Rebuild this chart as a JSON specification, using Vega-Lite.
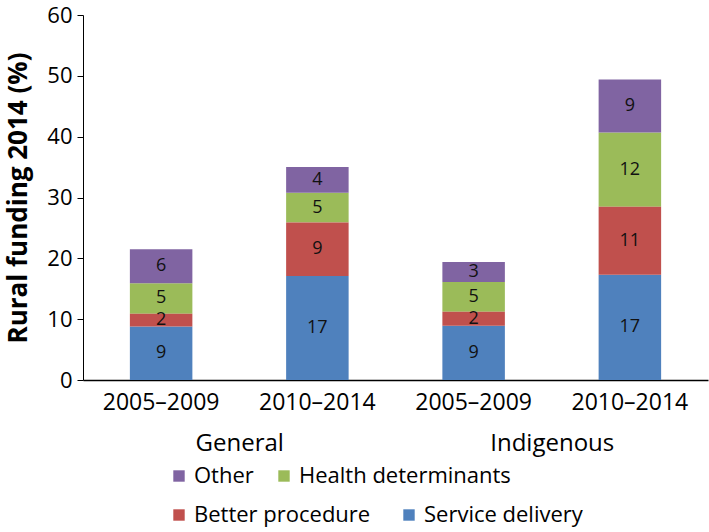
{
  "$schema": "https://vega.github.io/schema/vega-lite/v6.json",
  "background": "white",
  "padding": {"left": 5, "top": 4, "right": 2, "bottom": 2},
  "width": 625,
  "height": 365,
  "data": {
    "values": [
      {"bar": "General|2005–2009", "group": "General", "period": "2005–2009", "category": "Service delivery", "rank": 1, "value": 8.8},
      {"bar": "General|2005–2009", "group": "General", "period": "2005–2009", "category": "Better procedure", "rank": 2, "value": 2.1},
      {"bar": "General|2005–2009", "group": "General", "period": "2005–2009", "category": "Health determinants", "rank": 3, "value": 5.0},
      {"bar": "General|2005–2009", "group": "General", "period": "2005–2009", "category": "Other", "rank": 4, "value": 5.6},
      {"bar": "General|2010–2014", "group": "General", "period": "2010–2014", "category": "Service delivery", "rank": 1, "value": 17.1},
      {"bar": "General|2010–2014", "group": "General", "period": "2010–2014", "category": "Better procedure", "rank": 2, "value": 8.8},
      {"bar": "General|2010–2014", "group": "General", "period": "2010–2014", "category": "Health determinants", "rank": 3, "value": 4.9},
      {"bar": "General|2010–2014", "group": "General", "period": "2010–2014", "category": "Other", "rank": 4, "value": 4.2},
      {"bar": "Indigenous|2005–2009", "group": "Indigenous", "period": "2005–2009", "category": "Service delivery", "rank": 1, "value": 8.9},
      {"bar": "Indigenous|2005–2009", "group": "Indigenous", "period": "2005–2009", "category": "Better procedure", "rank": 2, "value": 2.3},
      {"bar": "Indigenous|2005–2009", "group": "Indigenous", "period": "2005–2009", "category": "Health determinants", "rank": 3, "value": 4.9},
      {"bar": "Indigenous|2005–2009", "group": "Indigenous", "period": "2005–2009", "category": "Other", "rank": 4, "value": 3.3},
      {"bar": "Indigenous|2010–2014", "group": "Indigenous", "period": "2010–2014", "category": "Service delivery", "rank": 1, "value": 17.3},
      {"bar": "Indigenous|2010–2014", "group": "Indigenous", "period": "2010–2014", "category": "Better procedure", "rank": 2, "value": 11.2},
      {"bar": "Indigenous|2010–2014", "group": "Indigenous", "period": "2010–2014", "category": "Health determinants", "rank": 3, "value": 12.2},
      {"bar": "Indigenous|2010–2014", "group": "Indigenous", "period": "2010–2014", "category": "Other", "rank": 4, "value": 8.7}
    ]
  },
  "layer": [
    {
      "encoding": {
        "x": {
          "field": "bar",
          "type": "nominal",
          "title": null,
          "sort": null,
          "scale": {"paddingInner": 0.6, "paddingOuter": 0.3},
          "axis": {
            "orient": "bottom",
            "labelAngle": 0,
            "labelExpr": "split(datum.label, '|')[1]",
            "ticks": false,
            "domainColor": "#000000",
            "domainWidth": 1.5,
            "labelFont": "Open Sans",
            "labelFontSize": 23,
            "labelColor": "#000000",
            "labelPadding": 11
          }
        }
      },
      "layer": [
        {
          "transform": [
            {"stack": "value", "groupby": ["bar"], "sort": [{"field": "rank", "order": "ascending"}], "as": ["y0", "y1"]},
            {"filter": "datum.rank >= 3"}
          ],
          "mark": {"type": "bar"},
          "encoding": {
            "y": {
              "field": "y0",
              "type": "quantitative",
              "title": "Rural funding 2014 (%)",
              "scale": {"domain": [0, 60], "nice": false},
              "axis": {
                "values": [0, 10, 20, 30, 40, 50, 60],
                "grid": false,
                "domainColor": "#000000",
                "tickColor": "#000000",
                "tickSize": 6,
                "labelFont": "Open Sans",
                "labelFontSize": 22,
                "labelColor": "#000000",
                "labelPadding": 5,
                "titleFont": "Open Sans",
                "titleFontSize": 26,
                "titleFontWeight": "bold",
                "titleColor": "#000000",
                "titlePadding": 15
              }
            },
            "y2": {"field": "y1"},
            "color": {
              "field": "category",
              "type": "nominal",
              "scale": {
                "domain": ["Other", "Health determinants"],
                "range": ["#8064A2", "#9BBB59"]
              },
              "legend": {
                "title": null,
                "orient": "none",
                "legendX": 85,
                "legendY": 450,
                "direction": "horizontal",
                "symbolType": "square",
                "symbolSize": 130,
                "symbolStrokeWidth": 0,
                "labelFont": "Open Sans",
                "labelFontSize": 22,
                "labelColor": "#000000",
                "labelLimit": 0,
                "labelOffset": 4,
                "columnPadding": 19
              }
            }
          }
        },
        {
          "transform": [
            {"stack": "value", "groupby": ["bar"], "sort": [{"field": "rank", "order": "ascending"}], "as": ["y0", "y1"]},
            {"filter": "datum.rank <= 2"}
          ],
          "mark": {"type": "bar"},
          "encoding": {
            "y": {"field": "y0", "type": "quantitative", "title": "Rural funding 2014 (%)"},
            "y2": {"field": "y1"},
            "color": {
              "field": "category",
              "type": "nominal",
              "scale": {
                "domain": ["Better procedure", "Service delivery"],
                "range": ["#C0504D", "#4F81BD"]
              },
              "legend": {
                "title": null,
                "orient": "none",
                "legendX": 85,
                "legendY": 489,
                "direction": "horizontal",
                "symbolType": "square",
                "symbolSize": 130,
                "symbolStrokeWidth": 0,
                "labelFont": "Open Sans",
                "labelFontSize": 22,
                "labelColor": "#000000",
                "labelLimit": 0,
                "labelOffset": 4,
                "columnPadding": 27
              }
            }
          }
        },
        {
          "mark": {"type": "text", "font": "Open Sans", "fontSize": 18, "color": "#111111", "baseline": "middle"},
          "encoding": {
            "y": {"field": "value", "type": "quantitative", "aggregate": "sum", "stack": "zero", "bandPosition": 0.5, "title": "Rural funding 2014 (%)"},
            "text": {"field": "value", "type": "quantitative", "aggregate": "sum", "format": ".0f"},
            "detail": {"field": "category", "type": "nominal"},
            "order": {"field": "rank", "type": "quantitative", "sort": "ascending"}
          }
        }
      ],
      "resolve": {"scale": {"color": "independent"}, "legend": {"color": "independent"}}
    },
    {
      "mark": {"type": "point", "opacity": 0},
      "encoding": {
        "x": {
          "field": "group",
          "type": "nominal",
          "title": null,
          "scale": {"paddingInner": 0, "paddingOuter": 0},
          "axis": {
            "orient": "bottom",
            "labelAngle": 0,
            "domain": false,
            "ticks": false,
            "labelFont": "Open Sans",
            "labelFontSize": 24,
            "labelColor": "#000000",
            "labelPadding": 51
          }
        },
        "y": {"datum": 0, "type": "quantitative"}
      }
    }
  ],
  "resolve": {"scale": {"x": "independent", "color": "independent"}, "axis": {"x": "independent"}, "legend": {"color": "independent"}},
  "config": {"view": {"stroke": null}}
}
